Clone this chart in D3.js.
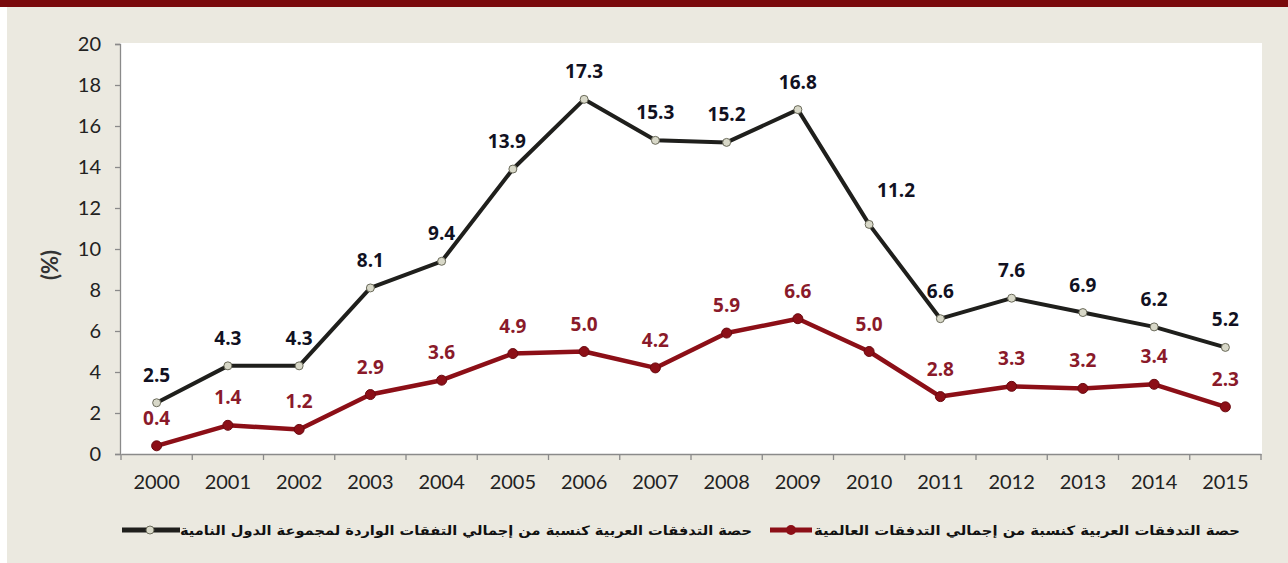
<!DOCTYPE html>
<html>
<head>
<meta charset="utf-8">
<script src="https://cdn.jsdelivr.net/npm/d3@7"></script>
<style>
body{margin:0;background:#fff;}
</style>
</head>
<body>
<svg id="chart" width="1288" height="563"></svg>
<script>
var years=["2000","2001","2002","2003","2004","2005","2006","2007","2008","2009","2010","2011","2012","2013","2014","2015"];
// share of arab inflows in developing countries inflows
var developing=[2.5,4.3,4.3,8.1,9.4,13.9,17.3,15.3,15.2,16.8,11.2,6.6,7.6,6.9,6.2,5.2];
// share of arab inflows in world inflows
var world=[0.4,1.4,1.2,2.9,3.6,4.9,5.0,4.2,5.9,6.6,5.0,2.8,3.3,3.2,3.4,2.3];
var yTicks=[0,2,4,6,8,10,12,14,16,18,20];
var legendWorld="حصة التدفقات العربية كنسبة من إجمالي التدفقات العالمية";
var legendDev="حصة التدفقات العربية كنسبة من إجمالي التفقات الواردة لمجموعة الدول النامية";

var width=1288, height=563;
var svg=d3.select("#chart");

// background
svg.append("rect").attr("x",7).attr("y",0).attr("width",width-7).attr("height",height).attr("fill","#ebe9e0");
svg.append("rect").attr("x",0).attr("y",0).attr("width",width).attr("height",7).attr("fill","#7a0a0c");

var pLeft=120, pRight=1262, pTop=43, pBottom=454;
svg.append("rect").attr("x",pLeft).attr("y",pTop).attr("width",pRight-pLeft).attr("height",pBottom-pTop).attr("fill","#ffffff");

var x=d3.scaleBand().domain(years).range([121,1261]);
var y=d3.scaleLinear().domain([0,20]).range([pBottom,pTop+1]);

// y axis
var yAxis=svg.append("g").attr("transform","translate("+pLeft+",0)")
 .call(d3.axisLeft(y).tickValues(yTicks).tickSize(5).tickPadding(14));
yAxis.selectAll("path,line").attr("stroke","#8a8a8a").attr("stroke-width",1.3);
yAxis.selectAll("text").style("font-family","Lato, 'Open Sans', sans-serif").style("font-size","20px").attr("fill","#222");

// x axis
var xAxis=svg.append("g").attr("transform","translate(0,"+pBottom+")")
 .call(d3.axisBottom(x).tickSize(0).tickPadding(21));
xAxis.select("path").attr("stroke","#8a8a8a").attr("stroke-width",1.3);
xAxis.selectAll("text").style("font-family","Lato, 'Open Sans', sans-serif").style("font-size","20px").attr("fill","#222");
xAxis.selectAll(".sep").data(years.concat(["end"])).join("line")
 .attr("class","sep")
 .attr("x1",(d,i)=>i<years.length?x(d):x(years[years.length-1])+x.bandwidth())
 .attr("x2",(d,i)=>i<years.length?x(d):x(years[years.length-1])+x.bandwidth())
 .attr("y1",0).attr("y2",6).attr("stroke","#8a8a8a").attr("stroke-width",1.3);

// y label
svg.append("text").attr("transform","translate(58,265) rotate(-90)")
 .attr("text-anchor","middle").style("font-family","Lato, sans-serif").style("font-size","22px")
 .style("font-weight","bold").attr("fill","#333").text("(%)");

var cx=d=>x(d)+x.bandwidth()/2;
var line=d3.line().x((d,i)=>cx(years[i])).y(d=>y(d));

// black series
svg.append("path").datum(developing).attr("d",line).attr("fill","none")
 .attr("stroke","#1f1f1c").attr("stroke-width",4).attr("stroke-linejoin","round");
svg.append("g").selectAll("circle").data(developing).join("circle")
 .attr("cx",(d,i)=>cx(years[i])).attr("cy",d=>y(d)).attr("r",4)
 .attr("fill","#d8d8c8").attr("stroke","#6a6a5a").attr("stroke-width",1);

// red series
svg.append("path").datum(world).attr("d",line).attr("fill","none")
 .attr("stroke","#8c0f17").attr("stroke-width",4.5).attr("stroke-linejoin","round");
svg.append("g").selectAll("circle").data(world).join("circle")
 .attr("cx",(d,i)=>cx(years[i])).attr("cy",d=>y(d)).attr("r",5)
 .attr("fill","#8c0f17").attr("stroke","#6a0a10").attr("stroke-width",1);

// value labels
var devDx={"2010":27,"2005":-6};
svg.append("g").selectAll("text").data(developing).join("text")
 .attr("x",(d,i)=>cx(years[i])+(devDx[years[i]]||0))
 .attr("y",(d,i)=>y(d)-(years[i]==="2010"?27:21))
 .attr("text-anchor","middle").style("font-family","'Open Sans', sans-serif")
 .style("font-size","19px").style("font-weight","bold").attr("fill","#111122")
 .text(d=>d.toFixed(1));
svg.append("g").selectAll("text").data(world).join("text")
 .attr("x",(d,i)=>cx(years[i])).attr("y",d=>y(d)-21)
 .attr("text-anchor","middle").style("font-family","'Open Sans', sans-serif")
 .style("font-size","19px").style("font-weight","bold").attr("fill","#8a1a2a")
 .text(d=>d.toFixed(1));

// legend
var lg=svg.append("g").style("font-family","'DejaVu Sans', sans-serif").style("font-size","13px").style("font-weight","bold");
lg.append("line").attr("x1",122).attr("x2",180).attr("y1",530).attr("y2",530).attr("stroke","#1f1f1c").attr("stroke-width",5);
lg.append("circle").attr("cx",150).attr("cy",530).attr("r",4).attr("fill","#d8d8c8").attr("stroke","#6a6a5a");
lg.append("text").attr("x",752).attr("y",535).attr("text-anchor","start").attr("direction","rtl").attr("fill","#111")
 .attr("textLength",572).attr("lengthAdjust","spacingAndGlyphs").text(legendDev);
lg.append("line").attr("x1",770).attr("x2",812).attr("y1",530).attr("y2",530).attr("stroke","#8c0f17").attr("stroke-width",5);
lg.append("circle").attr("cx",791).attr("cy",530).attr("r",5).attr("fill","#8c0f17");
lg.append("text").attr("x",1240).attr("y",535).attr("text-anchor","start").attr("direction","rtl").attr("fill","#111")
 .attr("textLength",426).attr("lengthAdjust","spacingAndGlyphs").text(legendWorld);
</script>
</body>
</html>
